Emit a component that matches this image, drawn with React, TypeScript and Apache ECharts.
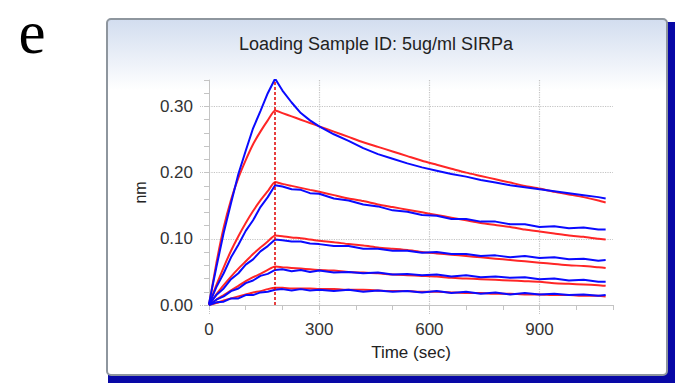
import React, { useEffect, useRef } from "react";
import * as echarts from "echarts";

// Time points (sec)
const TIME = [0, 20, 40, 60, 80, 100, 120, 140, 160, 180, 200, 225, 250, 275, 300, 340, 380, 420, 460, 500, 540, 580, 620, 660, 700, 740, 780, 820, 860, 900, 940, 980, 1020, 1060, 1080];

// Measured responses (blue, nm)
const DATA_1 = [0.002, 0.057, 0.109, 0.154, 0.198, 0.233, 0.267, 0.293, 0.320, 0.342, 0.324, 0.306, 0.290, 0.279, 0.270, 0.258, 0.248, 0.237, 0.228, 0.221, 0.214, 0.208, 0.203, 0.198, 0.194, 0.189, 0.185, 0.181, 0.178, 0.175, 0.172, 0.169, 0.166, 0.163, 0.161];
const DATA_2 = [0.001, 0.027, 0.048, 0.072, 0.091, 0.112, 0.128, 0.148, 0.163, 0.181, 0.179, 0.175, 0.174, 0.169, 0.168, 0.161, 0.158, 0.152, 0.149, 0.143, 0.141, 0.136, 0.135, 0.130, 0.130, 0.126, 0.126, 0.122, 0.122, 0.118, 0.119, 0.116, 0.117, 0.114, 0.114];
const DATA_3 = [0.001, 0.015, 0.025, 0.039, 0.048, 0.061, 0.069, 0.081, 0.089, 0.099, 0.098, 0.096, 0.096, 0.093, 0.092, 0.089, 0.089, 0.085, 0.085, 0.082, 0.082, 0.079, 0.080, 0.077, 0.077, 0.074, 0.075, 0.072, 0.074, 0.071, 0.072, 0.069, 0.070, 0.067, 0.068];
const DATA_4 = [0.000, 0.008, 0.013, 0.021, 0.025, 0.033, 0.037, 0.044, 0.047, 0.053, 0.054, 0.051, 0.053, 0.050, 0.052, 0.049, 0.050, 0.048, 0.049, 0.046, 0.047, 0.045, 0.046, 0.043, 0.045, 0.042, 0.043, 0.041, 0.042, 0.039, 0.040, 0.037, 0.038, 0.035, 0.035];
const DATA_5 = [0.000, 0.004, 0.005, 0.010, 0.010, 0.015, 0.015, 0.019, 0.020, 0.023, 0.024, 0.022, 0.024, 0.022, 0.023, 0.021, 0.023, 0.020, 0.022, 0.020, 0.021, 0.019, 0.021, 0.018, 0.020, 0.017, 0.019, 0.016, 0.018, 0.016, 0.017, 0.015, 0.016, 0.014, 0.015];

// Fitted curves (red, nm)
const FIT_1 = [0.000, 0.063, 0.117, 0.159, 0.192, 0.219, 0.243, 0.262, 0.279, 0.294, 0.290, 0.285, 0.280, 0.275, 0.270, 0.262, 0.254, 0.246, 0.239, 0.232, 0.225, 0.218, 0.212, 0.206, 0.200, 0.195, 0.190, 0.185, 0.180, 0.176, 0.171, 0.167, 0.163, 0.158, 0.155];
const FIT_2 = [0.000, 0.030, 0.057, 0.082, 0.104, 0.124, 0.142, 0.158, 0.172, 0.186, 0.183, 0.180, 0.177, 0.174, 0.171, 0.166, 0.161, 0.157, 0.152, 0.148, 0.144, 0.140, 0.136, 0.132, 0.128, 0.124, 0.121, 0.118, 0.114, 0.111, 0.108, 0.105, 0.103, 0.100, 0.099];
const FIT_3 = [0.000, 0.016, 0.030, 0.043, 0.055, 0.066, 0.077, 0.087, 0.096, 0.105, 0.104, 0.102, 0.101, 0.099, 0.097, 0.095, 0.092, 0.090, 0.087, 0.085, 0.083, 0.080, 0.078, 0.076, 0.074, 0.072, 0.070, 0.068, 0.066, 0.064, 0.062, 0.060, 0.059, 0.057, 0.056];
const FIT_4 = [0.000, 0.008, 0.015, 0.022, 0.029, 0.036, 0.042, 0.047, 0.053, 0.058, 0.057, 0.056, 0.055, 0.054, 0.053, 0.052, 0.050, 0.049, 0.048, 0.046, 0.045, 0.044, 0.043, 0.041, 0.040, 0.039, 0.038, 0.037, 0.036, 0.035, 0.033, 0.032, 0.031, 0.030, 0.029];
const FIT_5 = [0.000, 0.003, 0.007, 0.010, 0.013, 0.016, 0.019, 0.021, 0.024, 0.026, 0.026, 0.025, 0.025, 0.025, 0.024, 0.024, 0.023, 0.023, 0.022, 0.021, 0.021, 0.020, 0.020, 0.019, 0.018, 0.018, 0.017, 0.017, 0.016, 0.016, 0.015, 0.015, 0.014, 0.014, 0.013];

const DATA_SERIES = [DATA_1, DATA_2, DATA_3, DATA_4, DATA_5];
const FIT_SERIES = [FIT_1, FIT_2, FIT_3, FIT_4, FIT_5];

const TITLE = "Loading Sample ID: 5ug/ml SIRPa";
const X_NAME = "Time (sec)";
const Y_NAME = "nm";
const PANEL_LETTER = "e";
const STEP_END = 180; // association -> dissociation switch

const FONT = '"Liberation Sans", Arial, sans-serif';

export default function App() {
  const ref = useRef<HTMLDivElement>(null);

  useEffect(() => {
    if (!ref.current) return;
    const chart = echarts.init(ref.current, undefined, { renderer: "svg" });

    const pairs = (arr: number[]) => TIME.map((t, i) => [t, arr[i]]);

    const fitSeries = FIT_SERIES.map((arr, i) => ({
      type: "line",
      name: "fit" + (i + 1),
      data: pairs(arr),
      xAxisIndex: 0,
      yAxisIndex: 0,
      symbol: "none",
      smooth: 0.2,
      lineStyle: { color: "#ff2626", width: 2 },
      z: 3,
      markLine:
        i === 0
          ? {
              silent: true,
              symbol: ["none", "none"],
              label: { show: false },
              lineStyle: { color: "#e00000", type: [3, 2], width: 1.5 },
              data: [{ xAxis: STEP_END }],
            }
          : undefined,
    }));

    const dataSeries = DATA_SERIES.map((arr, i) => ({
      type: "line",
      name: "data" + (i + 1),
      data: pairs(arr),
      xAxisIndex: 0,
      yAxisIndex: 0,
      symbol: "none",
      lineStyle: { color: "#0a0aff", width: 2 },
      z: 4,
    }));

    const gridColor = "#c4c4c4";

    chart.setOption({
      animation: false,
      backgroundColor: "#ffffff",
      graphic: [
        {
          type: "text",
          z: -5,
          x: 32,
          y: 32,
          style: {
            text: PANEL_LETTER,
            font: '61px "Liberation Serif", "Times New Roman", serif',
            lineHeight: 40,
            fill: "#000",
            textAlign: "center",
            textVerticalAlign: "middle",
          },
        },
        {
          type: "rect",
          z: -10,
          shape: { x: 108, y: 22, width: 567, height: 361 },
          style: { fill: "#0808a6" },
        },
        {
          type: "rect",
          z: -9,
          shape: { x: 107, y: 19, width: 560, height: 356, r: 4 },
          style: {
            fill: new echarts.graphic.LinearGradient(0, 0, 0, 1, [
              { offset: 0, color: "#d2ddef" },
              { offset: 0.2, color: "#ffffff" },
              { offset: 1, color: "#ffffff" },
            ]),
            stroke: "#8e969e",
            lineWidth: 2,
          },
        },
        {
          type: "text",
          z: -5,
          x: 376,
          y: 44,
          style: {
            text: TITLE,
            font: "18px " + FONT,
            fill: "#222",
            textAlign: "center",
            textVerticalAlign: "middle",
          },
        },
      ],
      grid: { left: 209, right: 64, top: 80, bottom: 81, containLabel: false },
      xAxis: [
        {
          type: "value",
          min: 0,
          max: 1100,
          interval: 300,
          name: X_NAME,
          nameLocation: "middle",
          nameGap: 39,
          nameTextStyle: { fontFamily: FONT, fontSize: 17, color: "#222" },
          axisLine: { show: true, lineStyle: { color: gridColor, width: 1 } },
          axisTick: { show: true, length: 10, lineStyle: { color: gridColor, type: "dotted" } },
          axisLabel: { showMaxLabel: false, fontFamily: FONT, fontSize: 17, color: "#333", margin: 16 },
          splitLine: { show: true, showMinLine: false, showMaxLine: false, lineStyle: { color: gridColor, type: "dotted", width: 1.2 } },
        },
        {
          type: "value",
          min: 0,
          max: 1100,
          interval: 100,
          position: "bottom",
          axisLine: { show: false },
          axisTick: { show: true, length: 5, lineStyle: { color: gridColor } },
          axisLabel: { show: false },
          splitLine: { show: false },
        },
      ],
      yAxis: [
        {
          type: "value",
          min: 0,
          max: 0.34,
          interval: 0.1,
          name: Y_NAME,
          nameLocation: "middle",
          nameRotate: 90,
          nameGap: 61,
          nameTextStyle: { fontFamily: FONT, fontSize: 16, color: "#222" },
          axisLine: { show: true, lineStyle: { color: gridColor, width: 1 } },
          axisTick: { show: true, length: 10, lineStyle: { color: gridColor, type: "dotted" } },
          axisLabel: {
            showMaxLabel: false,
            fontFamily: FONT,
            fontSize: 17,
            color: "#333",
            margin: 16,
            formatter: (v: number) => v.toFixed(2),
          },
          splitLine: { show: true, showMinLine: false, showMaxLine: false, lineStyle: { color: gridColor, type: "dotted", width: 1.2 } },
        },
        {
          type: "value",
          min: 0,
          max: 0.34,
          interval: 0.02,
          position: "left",
          axisLine: { show: false },
          axisTick: { show: true, length: 5, lineStyle: { color: gridColor } },
          axisLabel: { show: false },
          splitLine: { show: false },
        },
      ],
      series: [...fitSeries, ...dataSeries],
    });

    return () => chart.dispose();
  }, []);

  return (
    <div
      ref={ref}
      style={{ position: "absolute", left: 0, top: 0, width: 677, height: 386, background: "#fff" }}
    />
  );
}
